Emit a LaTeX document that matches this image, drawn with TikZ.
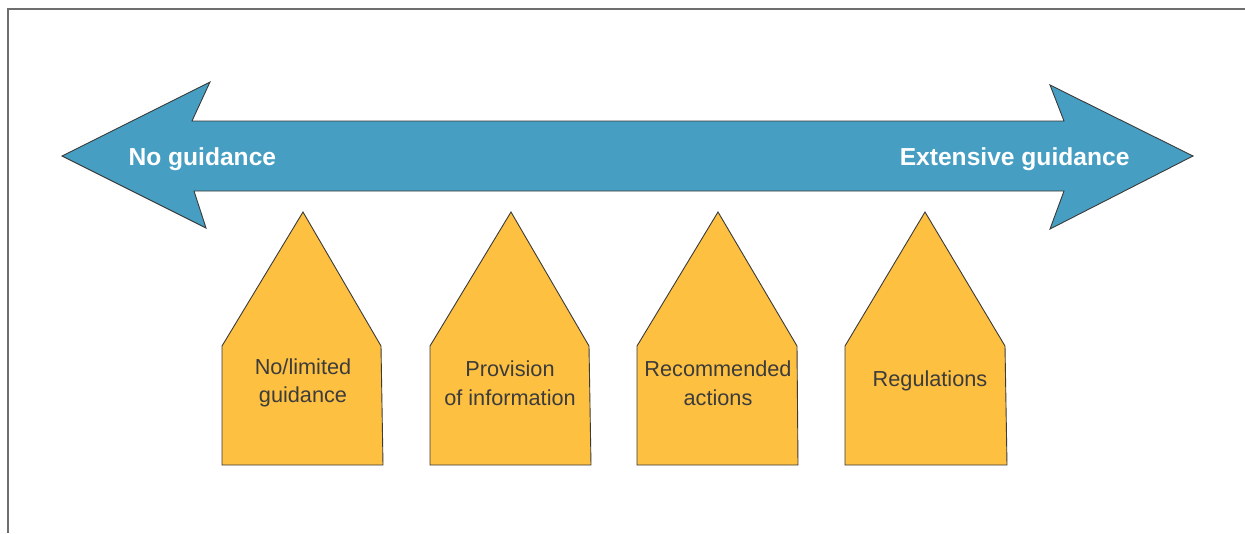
\documentclass[tikz,border=0pt]{standalone}
\usepackage{fontspec}
\setmainfont{Liberation Sans}
\definecolor{arrowblue}{HTML}{469FC3}
\definecolor{housefill}{HTML}{FDC040}
\definecolor{edgegray}{HTML}{3A3A3A}
\definecolor{framegray}{HTML}{6E6E6E}
\definecolor{labelgray}{HTML}{3C3C3C}
\tikzset{
  house/.style={fill=housefill,draw=edgegray,line width=0.9pt,line join=miter},
  houselabel/.style={align=center,text=labelgray,font=\fontsize{21.7}{28.5}\selectfont},
  endlabel/.style={text=white,font=\bfseries\fontsize{24.6}{28}\selectfont}
}
\begin{document}
\begin{tikzpicture}[x=1pt,y=-1pt]
	\useasboundingbox (0,0) rectangle (1245,533);
	% frame
	\draw[framegray,line width=1.5pt] (8,533) -- (8,9) -- (1245,9);
	% double arrow
	\draw[fill=arrowblue,draw=edgegray,line width=0.9pt] (62,156) -- (210,82) -- (192,121) -- (1064,121) -- (1050,85)
		-- (1193,156) -- (1050,229) -- (1064,191) -- (194,191) -- (206,228) -- cycle;
	\node[endlabel,anchor=base west] (none) at (125,165) {No guidance};
	\node[endlabel,anchor=base east] (ext) at (1133,165) {Extensive guidance};
	% houses
	\draw[house] (222,465) -- (222,346) -- (303,212) -- (381,346) -- (383,465) -- cycle;
	\draw[house] (430,465) -- (430,346) -- (511,212) -- (589,346) -- (591,465) -- cycle;
	\draw[house] (637,465) -- (637,346) -- (718,212) -- (797,346) -- (798,465) -- cycle;
	\draw[house] (845,465) -- (845,346) -- (925,212) -- (1005,346) -- (1007,465) -- cycle;
	\node[houselabel] (limited) at (303,383) {No/limited\\guidance};
	\node[houselabel] (info) at (510,383) {Provision\\of information};
	\node[houselabel] (actions) at (718,383) {Recommended\\actions};
	\node[houselabel] (regs) at (930,381) {Regulations};
\end{tikzpicture}
\end{document}
